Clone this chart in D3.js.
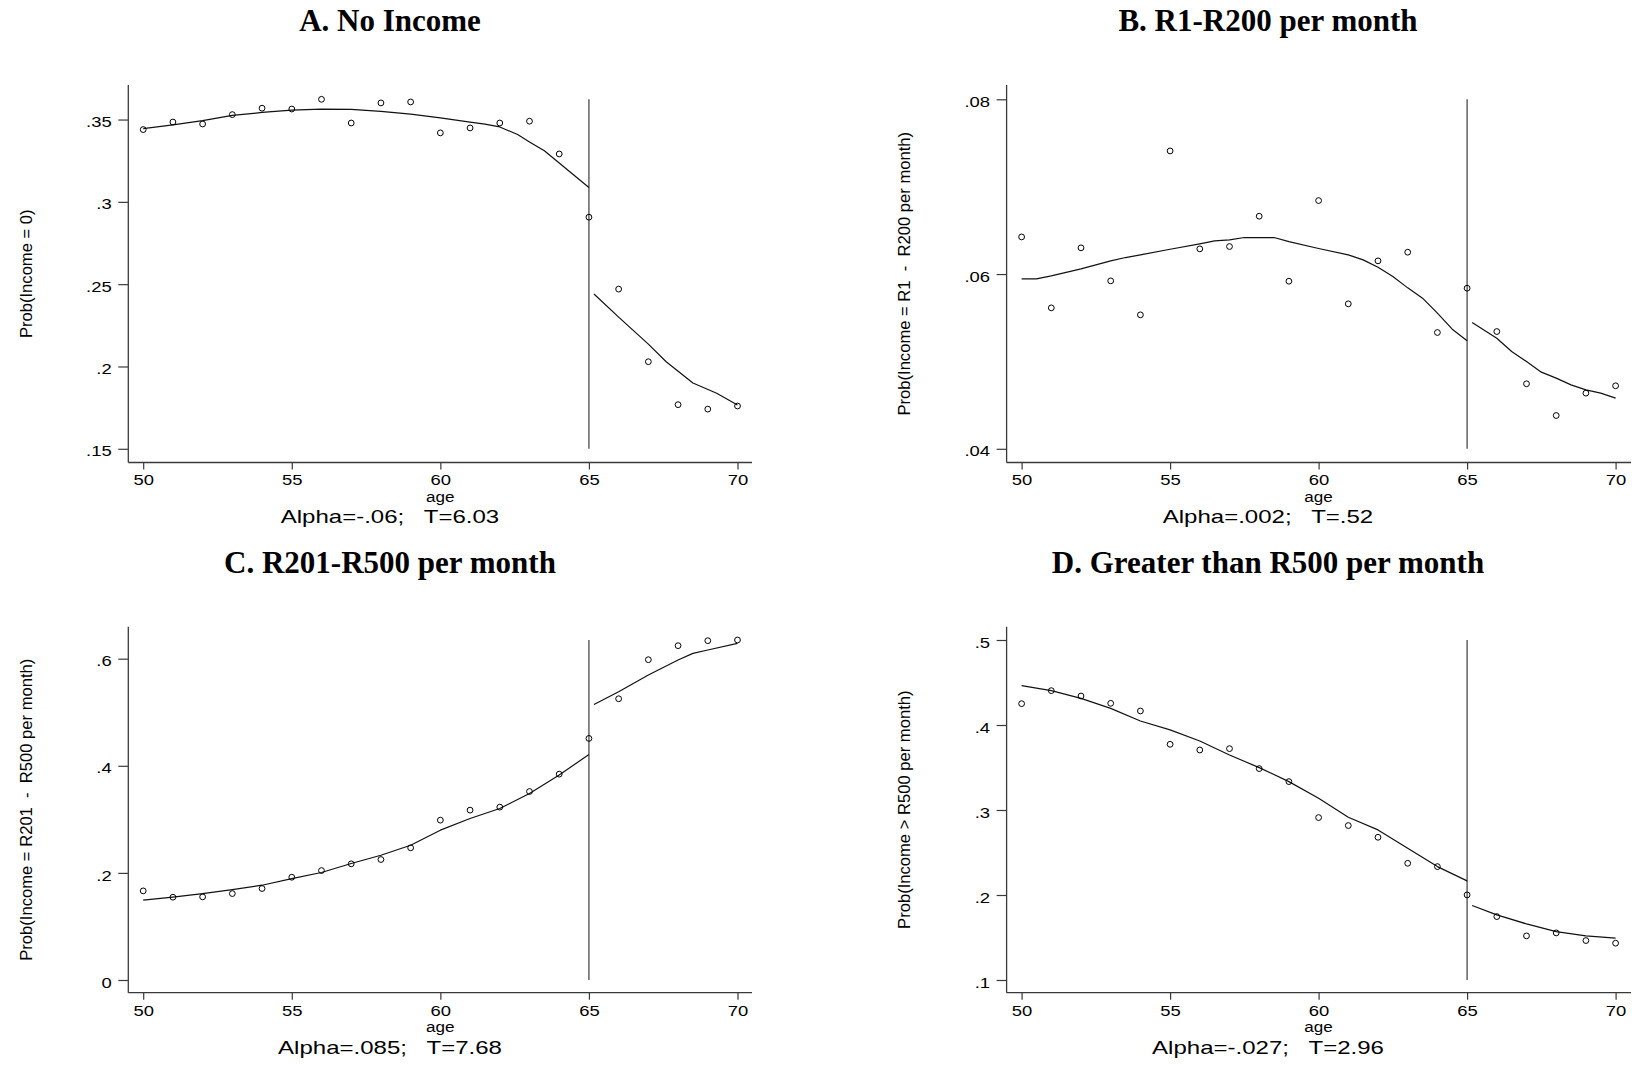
<!DOCTYPE html>
<html><head><meta charset="utf-8">
<script src="https://cdn.jsdelivr.net/npm/d3@7"></script>
<style>
html,body{margin:0;padding:0;background:#fff;}
svg{display:block;}
</style></head><body>
<svg id="chart" width="1632" height="1078"></svg>
<script>
// ---------------- DATA ----------------
const ages = [50,51,52,53,54,55,56,57,58,59,60,61,62,63,64,65,66,67,68,69,70];
const ageTicks = [50,55,60,65,70];
const cutoffAge = 65;
const xLabel = "age";

// Panel A
const titleA = "A. No Income";
const yLabelA = "Prob(Income = 0)";
const noteA = "Alpha=-.06;   T=6.03";
const yTicksA = [0.15,0.2,0.25,0.3,0.35];
const yTickLabelsA = [".15",".2",".25",".3",".35"];
const pointsA = [.3439,.3485,.3473,.353,.3569,.3564,.3623,.3479,.3601,.3607,.3419,.3449,.3479,.349,.3291,.2907,.247,.2029,.1768,.1741,.176];
const fitLeftAgesA = [50,51,52,53,54,55,56,57,58,59,60,61,61.5,62,62.6,63,63.5,65];
const fitLeftA = [.3445,.3468,.3494,.3525,.3543,.3557,.3563,.3562,.3550,.3533,.3510,.3484,.3472,.3455,.3409,.3364,.3310,.3087];
const fitRightAgesA = [65.17,66,67,67.6,68.5,69.3,70];
const fitRightA = [.244,.230,.2136,.2029,.190,.1837,.1766];

// Panel B
const titleB = "B. R1-R200 per month";
const yLabelB = "Prob(Income = R1  -  R200 per month)";
const noteB = "Alpha=.002;   T=.52";
const yTicksB = [0.04,0.06,0.08];
const yTickLabelsB = [".04",".06",".08"];
const pointsB = [.06425,.05613,.063,.05922,.05533,.07409,.06288,.06315,.06662,.05918,.06841,.05659,.06151,.0625,.05331,.05838,.05342,.04744,.04381,.04637,.04721];
const fitLeftAgesB = [50,50.5,51,52,53,53.5,54,55,56,56.5,57,57.5,58.5,59,60,61,61.5,62,62.5,63,63.5,64,64.5,65];
const fitLeftB = [.05945,.05945,.05979,.06059,.06151,.06189,.06219,.06284,.06345,.06379,.06391,.06418,.06418,.06372,.06292,.06219,.06162,.06078,.05971,.05842,.05724,.05552,.05369,.05236];
const fitRightAgesB = [65.17,66,66.5,67,67.5,68,68.5,69,69.5,70];
const fitRightB = [.05445,.05266,.05114,.04999,.04877,.04809,.04732,.04675,.04637,.0458];

// Panel C
const titleC = "C. R201-R500 per month";
const yLabelC = "Prob(Income = R201  -  R500 per month)";
const noteC = "Alpha=.085;   T=7.68";
const yTicksC = [0,0.2,0.4,0.6];
const yTickLabelsC = ["0",".2",".4",".6"];
const pointsC = [.1664,.1546,.1552,.1614,.1708,.1919,.2044,.2169,.225,.2468,.2985,.3172,.3228,.352,.3844,.4511,.5252,.5981,.6243,.6336,.6349];
const fitLeftAgesC = [50,51,52,53,54,55,56,57,58,59,60,61,62,63,64,65];
const fitLeftC = [.149,.1546,.1614,.1689,.177,.1894,.2007,.2175,.233,.2517,.2798,.3016,.3203,.3483,.3826,.4212];
const fitRightAgesC = [65.17,66,67,68,68.5,69,70];
const fitRightC = [.5146,.5383,.5695,.5975,.61,.6162,.6287];

// Panel D
const titleD = "D. Greater than R500 per month";
const yLabelD = "Prob(Income > R500 per month)";
const noteD = "Alpha=-.027;   T=2.96";
const yTicksD = [0.1,0.2,0.3,0.4,0.5];
const yTickLabelsD = [".1",".2",".3",".4",".5"];
const pointsD = [.4251,.4404,.4341,.4255,.4165,.3773,.3706,.3722,.3487,.3334,.2911,.2817,.2679,.2373,.2334,.2001,.1746,.1519,.1554,.1464,.1433];
const fitLeftAgesD = [50,51,52,53,54,55,56,57,58,59,60,61,62,63,64,65];
const fitLeftD = [.4463,.4404,.4314,.4196,.4047,.3942,.3812,.3647,.3499,.3334,.3138,.2914,.2766,.255,.2334,.2166];
const fitRightAgesD = [65.17,66,67,68,69,70];
const fitRightD = [.1876,.1766,.166,.157,.1519,.1492];

// ---------------- LAYOUT ----------------
const cols = [
  {axisX:128.3, x0:143.2, x1:737.5, axisEnd:752, center:390, yTitleX:32.3},
  {axisX:1006.6, x0:1021.6, x1:1615.6, axisEnd:1631, center:1268, yTitleX:910}
];
const rows = [
  {axisTop:85, yTop:99.3, yBottom:448.8, axisY:462.5, titleY:30.7},
  {axisTop:626.7, yTop:640, yBottom:980, axisY:992.7, titleY:573}
];
const sans = "'Liberation Sans', Arial, Helvetica, sans-serif";
const serif = "'Liberation Serif', 'Times New Roman', Times, serif";

const panels = [
  {title:titleA, yLabel:yLabelA, note:noteA, yTicks:yTicksA, yTickLabels:yTickLabelsA, points:pointsA,
   fits:[[fitLeftAgesA,fitLeftA],[fitRightAgesA,fitRightA]], col:0, row:0},
  {title:titleB, yLabel:yLabelB, note:noteB, yTicks:yTicksB, yTickLabels:yTickLabelsB, points:pointsB,
   fits:[[fitLeftAgesB,fitLeftB],[fitRightAgesB,fitRightB]], col:1, row:0},
  {title:titleC, yLabel:yLabelC, note:noteC, yTicks:yTicksC, yTickLabels:yTickLabelsC, points:pointsC,
   fits:[[fitLeftAgesC,fitLeftC],[fitRightAgesC,fitRightC]], col:0, row:1},
  {title:titleD, yLabel:yLabelD, note:noteD, yTicks:yTicksD, yTickLabels:yTickLabelsD, points:pointsD,
   fits:[[fitLeftAgesD,fitLeftD],[fitRightAgesD,fitRightD]], col:1, row:1}
];

const svg = d3.select('#chart');

function stretch(sel, sx){
  sel.each(function(){
    const t = d3.select(this);
    const xx = +t.attr('x') || 0;
    t.attr('transform', `translate(${xx*(1-sx)},0) scale(${sx},1)`);
  });
}

const axisColor = '#3a3a3a';

panels.forEach(p => {
  const c = cols[p.col], r = rows[p.row];
  const x = d3.scaleLinear().domain([50,70]).range([c.x0, c.x1]);
  const yMax = Math.max(d3.max(p.yTicks), d3.max(p.points));
  const y = d3.scaleLinear().domain([d3.min(p.yTicks), yMax]).range([r.yBottom, r.yTop]);
  const g = svg.append('g');

  // title
  g.append('text')
    .attr('x', c.center).attr('y', r.titleY)
    .attr('text-anchor','middle')
    .attr('font-family', serif).attr('font-weight','bold').attr('font-size', 31)
    .attr('fill','#000')
    .text(p.title);

  // axis lines
  g.append('line').attr('x1',c.axisX).attr('x2',c.axisX).attr('y1',r.axisTop).attr('y2',r.axisY)
    .attr('stroke',axisColor).attr('stroke-width',1.3);
  g.append('line').attr('x1',c.axisX).attr('x2',c.axisEnd).attr('y1',r.axisY).attr('y2',r.axisY)
    .attr('stroke',axisColor).attr('stroke-width',1.3);

  // x axis
  const xa = g.append('g').attr('transform',`translate(0,${r.axisY})`)
    .call(d3.axisBottom(x).tickValues(ageTicks).tickSize(7).tickFormat(d3.format('d')));
  xa.select('.domain').remove();
  xa.selectAll('.tick line').attr('stroke',axisColor).attr('stroke-width',1.2);
  const xt = xa.selectAll('.tick text')
    .attr('y',23).attr('dy',null)
    .attr('font-family',sans).attr('font-size',15.5).attr('fill','#000');
  stretch(xt, 1.19);

  // y axis
  const ya = g.append('g').attr('transform',`translate(${c.axisX},0)`)
    .call(d3.axisLeft(y).tickValues(p.yTicks).tickSize(10)
      .tickFormat((d,i) => p.yTickLabels[i]));
  ya.select('.domain').remove();
  ya.selectAll('.tick line').attr('stroke',axisColor).attr('stroke-width',1.2);
  const yt = ya.selectAll('.tick text')
    .attr('x',-16.6).attr('dy','0.46em')
    .attr('font-family',sans).attr('font-size',15.5).attr('fill','#000');
  stretch(yt, 1.19);
  xa.attr('font-family',null).attr('font-size',null);
  ya.attr('font-family',null).attr('font-size',null);

  // y axis title
  g.append('text')
    .attr('transform',`translate(${c.yTitleX},${(r.axisTop + r.axisY)/2}) rotate(-90)`)
    .attr('text-anchor','middle')
    .attr('font-family',sans).attr('font-size',16.6).attr('fill','#000')
    .style('white-space','pre')
    .text(p.yLabel);

  // x axis title
  const xl = g.append('text')
    .attr('x',(c.x0 + c.x1)/2).attr('y', r.axisY + 39.5)
    .attr('text-anchor','middle')
    .attr('font-family',sans).attr('font-size',15.5).attr('fill','#000')
    .text(xLabel);
  stretch(xl, 1.1);

  // note
  const nt = g.append('text')
    .attr('x', c.center).attr('y', r.axisY + 61)
    .attr('text-anchor','middle')
    .attr('font-family',sans).attr('font-size',18.2).attr('fill','#000')
    .style('white-space','pre')
    .text(p.note);
  stretch(nt, 1.32);

  // vertical cutoff line spanning the y scale
  g.append('line')
    .attr('x1', x(cutoffAge)).attr('x2', x(cutoffAge))
    .attr('y1', y(y.domain()[0])).attr('y2', y(y.domain()[1]))
    .attr('stroke','#4a4a4a').attr('stroke-width',1.3);

  // lowess fits
  const line = d3.line().x(d => x(d[0])).y(d => y(d[1]));
  p.fits.forEach(f => {
    g.append('path').datum(d3.zip(f[0], f[1]))
      .attr('d', line)
      .attr('fill','none').attr('stroke','#111').attr('stroke-width',1.2)
      .attr('stroke-linejoin','round');
  });

  // points
  g.append('g').selectAll('circle').data(d3.zip(ages, p.points)).join('circle')
    .attr('cx', d => x(d[0])).attr('cy', d => y(d[1])).attr('r', 2.9)
    .attr('fill','none').attr('stroke','#000').attr('stroke-width',1);
});
</script>
</body></html>
